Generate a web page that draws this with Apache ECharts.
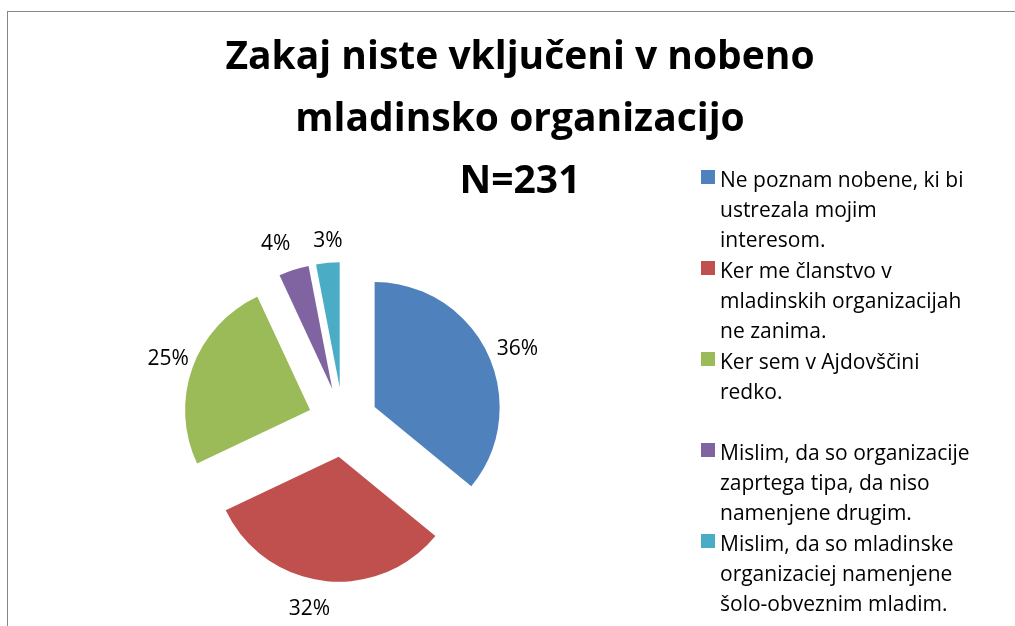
<!DOCTYPE html>
<html>
<head>
<meta charset="utf-8">
<script src="https://cdn.jsdelivr.net/npm/echarts@6/dist/echarts.min.js"></script>
<style>
    html, body { margin: 0; padding: 0; background: #fff; overflow: hidden; }
    #chart { width: 1015px; height: 626px; }
    .frame { position: absolute; left: 7px; top: 11px; width: 1100px; height: 700px;
             border: 1px solid #868686; pointer-events: none; }
</style>
</head>
<body>
<div id="chart"></div>
<div class="frame"></div>
<script>
    // odgovori (N=231)
    const categories = [
        'Ne poznam nobene, ki bi ustrezala mojim interesom.',
        'Ker me članstvo v mladinskih organizacijah ne zanima.',
        'Ker sem v Ajdovščini redko.',
        'Mislim, da so organizacije zaprtega tipa, da niso namenjene drugim.',
        'Mislim, da so mladinske organizaciej namenjene šolo-obveznim mladim.'
    ];
    const counts = [83, 74, 58, 9, 7];
    const legendText = [
        'Ne poznam nobene, ki bi\nustrezala mojim\ninteresom.',
        'Ker me članstvo v\nmladinskih organizacijah\nne zanima.',
        'Ker sem v Ajdovščini\nredko.\n ',
        'Mislim, da so organizacije\nzaprtega tipa, da niso\nnamenjene drugim.',
        'Mislim, da so mladinske\norganizaciej namenjene\nšolo-obveznim mladim.'
    ];
    const colors = ['#4F81BD', '#C0504D', '#9BBB59', '#8064A2', '#4BACC6'];

    // small per-label nudges so labels sit where excel put them
    const labelTweaks = [
        { length: 10, length2: 0 },
        { length: 28, length2: -10 },
        { length: 24, length2: -19 },
        { length: 27, length2: -5 },
        { length: 22, length2: -17 }
    ];

    const font = 'Open Sans';
    const chart = echarts.init(document.getElementById('chart'));

    chart.setOption({
        animation: false,
        backgroundColor: '#fff',
        title: {
            text: 'Zakaj niste vključeni v nobeno\nmladinsko organizacijo\nN=231',
            left: 515,
            top: 22,
            textAlign: 'center',
            textStyle: {
                fontFamily: font,
                fontWeight: 'bold',
                fontSize: 39,
                lineHeight: 62,
                color: '#000'
            }
        },
        legend: {
            orient: 'vertical',
            left: 701,
            top: 166,
            padding: 0,
            itemWidth: 14,
            itemHeight: 90,
            itemGap: 1,
            icon: 'path://M0,0H0.01M0,4H14V18H0ZM0,90H0.01',
            itemStyle: { borderWidth: 0 },
            selectedMode: false,
            textStyle: { fontFamily: font, fontSize: 21, lineHeight: 30, color: '#000' },
            formatter: function (name) {
                return legendText[categories.indexOf(name)];
            }
        },
        series: [{
            type: 'pie',
            center: [343, 422],
            radius: 125,
            startAngle: 90,
            clockwise: true,
            selectedMode: 'multiple',
            selectedOffset: 35,
            avoidLabelOverlap: false,
            percentPrecision: 0,
            itemStyle: { borderWidth: 0 },
            emphasis: { disabled: true },
            select: { itemStyle: { borderWidth: 0 } },
            label: {
                show: true,
                position: 'outside',
                formatter: '{d}%',
                fontFamily: font,
                fontSize: 21,
                color: '#000',
                distanceToLabelLine: 0
            },
            labelLine: { show: false, length: 10, length2: 0 },
            data: categories.map(function (name, i) {
                return {
                    name: name,
                    value: counts[i],
                    selected: true,
                    itemStyle: { color: colors[i] },
                    labelLine: labelTweaks[i]
                };
            })
        }]
    });
</script>
</body>
</html>
